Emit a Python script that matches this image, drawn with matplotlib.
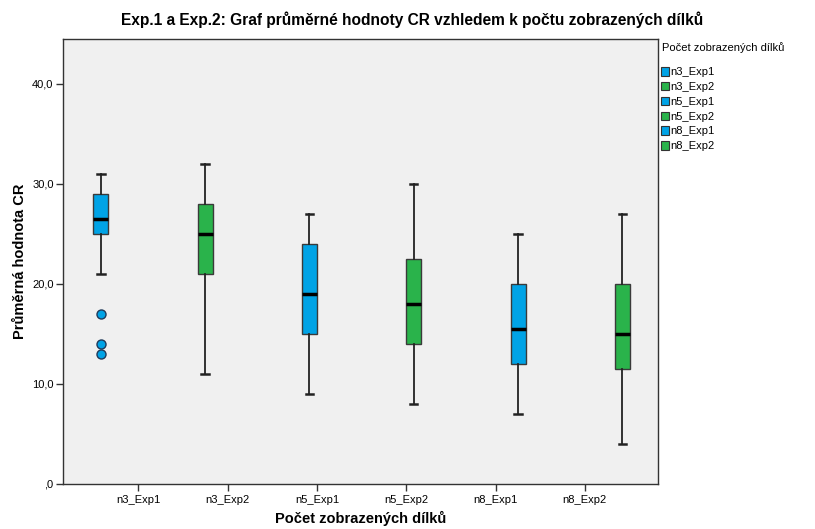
import numpy as np
import matplotlib.pyplot as plt
from matplotlib.patches import Patch

plt.rcParams['font.family'] = ['Liberation Sans', 'DejaVu Sans']

skupiny = ["n3_Exp1", "n3_Exp2", "n5_Exp1", "n5_Exp2", "n8_Exp1", "n8_Exp2"]
median = [26.5, 25.0, 19.0, 18.0, 15.5, 15.0]
q1 = [25.0, 21.0, 15.0, 14.0, 12.0, 11.5]
q3 = [29.0, 28.0, 24.0, 22.5, 20.0, 20.0]
whis_lo = [21.0, 11.0, 9.0, 8.0, 7.0, 4.0]
whis_hi = [31.0, 32.0, 27.0, 30.0, 25.0, 27.0]
odlehle = [[17.0, 14.0, 13.0], [], [], [], [], []]

barvy = ["#00A3E6", "#2AB34B", "#00A3E6", "#2AB34B", "#00A3E6", "#2AB34B"]

fig = plt.figure(figsize=(8.15, 5.29), dpi=100)
ax = fig.add_axes([0.0777, 0.0851, 0.7297, 0.8412])
ax.set_facecolor("#F0F0F0")

n = len(skupiny)
slot = 0.168   # sirka jednoho slotu v clusteru
stats = []
pozice = []
for i in range(n):
    stats.append(dict(med=median[i], q1=q1[i], q3=q3[i], whislo=whis_lo[i],
                      whishi=whis_hi[i], fliers=odlehle[i]))
    pozice.append(i + (i - (n - 1) / 2) * slot)

bp = ax.bxp(stats, positions=pozice, widths=slot, patch_artist=True,
            capwidths=slot * 0.5, showfliers=True,
            medianprops=dict(color='black', linewidth=2.5),
            whiskerprops=dict(color='#222222', linewidth=1.3),
            capprops=dict(color='#222222', linewidth=1.8),
            boxprops=dict(edgecolor='#3a3a3a', linewidth=1.0),
            flierprops=dict(marker='o', markersize=6.5, markeredgecolor='#1f3a5a',
                            markeredgewidth=1.0))
for i, box in enumerate(bp['boxes']):
    box.set_facecolor(barvy[i])
for i, fl in enumerate(bp['fliers']):
    fl.set_markerfacecolor(barvy[i])

ax.set_xlim(-0.84, 5.82)
ax.set_ylim(0, 44.5)
ax.set_xticks(range(n))
ax.set_xticklabels(skupiny, fontsize=8)
yt = [0, 10, 20, 30, 40]
ax.set_yticks(yt)
ax.set_yticklabels([",0", "10,0", "20,0", "30,0", "40,0"], fontsize=8)
ax.tick_params(length=5, width=1, color='#333333', pad=2)
ax.tick_params(axis='x', pad=3)
for s in ax.spines.values():
    s.set_color('#333333')
    s.set_linewidth(1.0)

ax.set_xlabel("Počet zobrazených dílků", fontsize=10.5, fontweight='bold', labelpad=4)
ax.set_ylabel("Průměrná hodnota CR", fontsize=10.5, fontweight='bold', labelpad=4)
fig.text(0.506, 0.962, "Exp.1 a Exp.2: Graf průměrné hodnoty CR vzhledem k počtu zobrazených dílků",
         ha='center', va='center', fontsize=11.2, fontweight='bold')

fig.text(0.812, 0.911, "Počet zobrazených dílků", ha='left', va='center', fontsize=8)
handles = [Patch(facecolor=barvy[i], edgecolor='#333333', linewidth=0.8) for i in range(n)]
fig.legend(handles, skupiny, loc='upper left', bbox_to_anchor=(0.811, 0.873),
           frameon=False, fontsize=8, handlelength=0.7, handleheight=0.8,
           handletextpad=0.15, labelspacing=0.42, borderpad=0, borderaxespad=0)

plt.savefig("out.png", dpi=100)
